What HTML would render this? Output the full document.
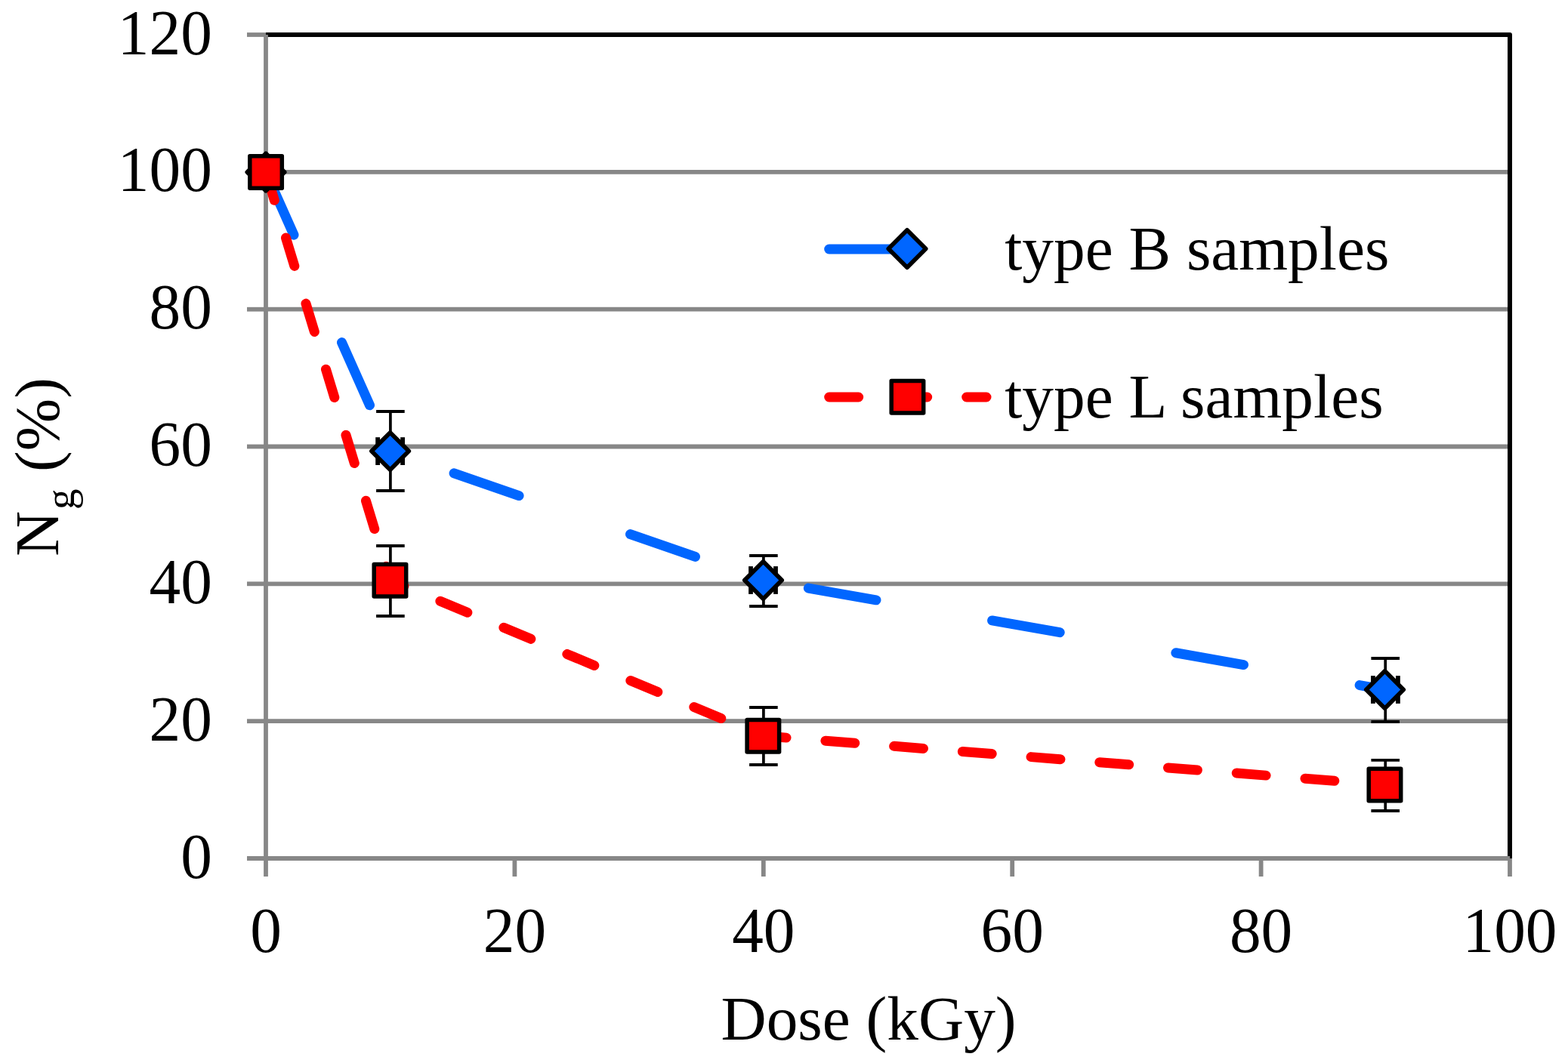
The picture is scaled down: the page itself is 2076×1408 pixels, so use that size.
<!DOCTYPE html>
<html><head><meta charset="utf-8"><title>Ng vs Dose</title>
<style>html,body{margin:0;padding:0;background:#fff;overflow:hidden}svg{display:block}</style>
</head><body>
<svg width="2076" height="1408" viewBox="0 0 2076 1408">
<rect width="2076" height="1408" fill="#fff"/>
<line x1="352" y1="955.2" x2="1999" y2="955.2" stroke="#878787" stroke-width="5.8"/>
<line x1="352" y1="773.3" x2="1999" y2="773.3" stroke="#878787" stroke-width="5.8"/>
<line x1="352" y1="591.5" x2="1999" y2="591.5" stroke="#878787" stroke-width="5.8"/>
<line x1="352" y1="409.7" x2="1999" y2="409.7" stroke="#878787" stroke-width="5.8"/>
<line x1="352" y1="227.8" x2="1999" y2="227.8" stroke="#878787" stroke-width="5.8"/>
<line x1="327" y1="1137.0" x2="352" y2="1137.0" stroke="#878787" stroke-width="5.8"/>
<line x1="327" y1="955.2" x2="352" y2="955.2" stroke="#878787" stroke-width="5.8"/>
<line x1="327" y1="773.3" x2="352" y2="773.3" stroke="#878787" stroke-width="5.8"/>
<line x1="327" y1="591.5" x2="352" y2="591.5" stroke="#878787" stroke-width="5.8"/>
<line x1="327" y1="409.7" x2="352" y2="409.7" stroke="#878787" stroke-width="5.8"/>
<line x1="327" y1="227.8" x2="352" y2="227.8" stroke="#878787" stroke-width="5.8"/>
<line x1="327" y1="46.0" x2="352" y2="46.0" stroke="#878787" stroke-width="5.8"/>
<path d="M352 46 H1999 V1137" fill="none" stroke="#000" stroke-width="6" stroke-linejoin="round"/>
<line x1="327" y1="1137" x2="1999" y2="1137" stroke="#878787" stroke-width="5.8"/>
<line x1="681.4" y1="1137" x2="681.4" y2="1161" stroke="#878787" stroke-width="5.8"/>
<line x1="1010.8" y1="1137" x2="1010.8" y2="1161" stroke="#878787" stroke-width="5.8"/>
<line x1="1340.2" y1="1137" x2="1340.2" y2="1161" stroke="#878787" stroke-width="5.8"/>
<line x1="1669.6" y1="1137" x2="1669.6" y2="1161" stroke="#878787" stroke-width="5.8"/>
<line x1="1999.0" y1="1137" x2="1999.0" y2="1161" stroke="#878787" stroke-width="5.8"/>
<line x1="352" y1="46" x2="352" y2="1161" stroke="#878787" stroke-width="5.8"/>
<path d="M352.0 228.0 L516.6 597.6 L1010.5 768.5 L1833.5 913.5" fill="none" stroke="#0066FF" stroke-width="13" stroke-linecap="round" stroke-linejoin="round" stroke-dasharray="91 156"/>
<path d="M352.0 228.0 L516.5 768.6 L1010.4 974.7 L1833.5 1039.5" fill="none" stroke="#FF0000" stroke-width="13" stroke-linecap="round" stroke-linejoin="round" stroke-dasharray="39 52"/>
<line x1="335.5" y1="209.6" x2="335.5" y2="246.4" stroke="#000" stroke-width="5.8"/><line x1="368.5" y1="209.6" x2="368.5" y2="246.4" stroke="#000" stroke-width="5.8"/>
<line x1="516.9" y1="545.0" x2="516.9" y2="650.0" stroke="#000" stroke-width="3.7"/><line x1="498.1" y1="545.0" x2="535.7" y2="545.0" stroke="#000" stroke-width="3.9"/><line x1="498.1" y1="650.0" x2="535.7" y2="650.0" stroke="#000" stroke-width="3.9"/>
<line x1="500.1" y1="579.2" x2="500.1" y2="616.0" stroke="#000" stroke-width="5.8"/><line x1="533.1" y1="579.2" x2="533.1" y2="616.0" stroke="#000" stroke-width="5.8"/>
<line x1="1010.9" y1="736.0" x2="1010.9" y2="803.0" stroke="#000" stroke-width="3.7"/><line x1="992.1" y1="736.0" x2="1029.7" y2="736.0" stroke="#000" stroke-width="3.9"/><line x1="992.1" y1="803.0" x2="1029.7" y2="803.0" stroke="#000" stroke-width="3.9"/>
<line x1="994.0" y1="750.1" x2="994.0" y2="786.9" stroke="#000" stroke-width="5.8"/><line x1="1027.0" y1="750.1" x2="1027.0" y2="786.9" stroke="#000" stroke-width="5.8"/>
<line x1="1834.2" y1="872.0" x2="1834.2" y2="956.0" stroke="#000" stroke-width="3.7"/><line x1="1815.4" y1="872.0" x2="1853.0" y2="872.0" stroke="#000" stroke-width="3.9"/><line x1="1815.4" y1="956.0" x2="1853.0" y2="956.0" stroke="#000" stroke-width="3.9"/>
<line x1="1817.9" y1="895.1" x2="1817.9" y2="931.9" stroke="#000" stroke-width="5.8"/><line x1="1850.9" y1="895.1" x2="1850.9" y2="931.9" stroke="#000" stroke-width="5.8"/>
<path d="M352.0 203.3 L376.7 228.0 L352.0 252.7 L327.3 228.0 Z" fill="#0066FF" stroke="#000" stroke-width="5.7" stroke-linejoin="round"/>
<path d="M516.6 572.9 L541.3 597.6 L516.6 622.3 L491.9 597.6 Z" fill="#0066FF" stroke="#000" stroke-width="5.7" stroke-linejoin="round"/>
<path d="M1010.5 743.8 L1035.2 768.5 L1010.5 793.2 L985.8 768.5 Z" fill="#0066FF" stroke="#000" stroke-width="5.7" stroke-linejoin="round"/>
<path d="M1833.5 888.8 L1858.2 913.5 L1833.5 938.2 L1808.8 913.5 Z" fill="#0066FF" stroke="#000" stroke-width="5.7" stroke-linejoin="round"/>
<line x1="516.9" y1="723.0" x2="516.9" y2="816.0" stroke="#000" stroke-width="3.7"/><line x1="498.1" y1="723.0" x2="535.7" y2="723.0" stroke="#000" stroke-width="3.9"/><line x1="498.1" y1="816.0" x2="535.7" y2="816.0" stroke="#000" stroke-width="3.9"/>
<line x1="1010.9" y1="937.0" x2="1010.9" y2="1013.0" stroke="#000" stroke-width="3.7"/><line x1="992.1" y1="937.0" x2="1029.7" y2="937.0" stroke="#000" stroke-width="3.9"/><line x1="992.1" y1="1013.0" x2="1029.7" y2="1013.0" stroke="#000" stroke-width="3.9"/>
<line x1="1834.2" y1="1006.9" x2="1834.2" y2="1074.0" stroke="#000" stroke-width="3.7"/><line x1="1815.4" y1="1006.9" x2="1853.0" y2="1006.9" stroke="#000" stroke-width="3.9"/><line x1="1815.4" y1="1074.0" x2="1853.0" y2="1074.0" stroke="#000" stroke-width="3.9"/>
<rect x="330.8" y="206.8" width="42.5" height="42.5" fill="#FF0000" stroke="#000" stroke-width="5.5" stroke-linejoin="round"/>
<rect x="495.2" y="747.4" width="42.5" height="42.5" fill="#FF0000" stroke="#000" stroke-width="5.5" stroke-linejoin="round"/>
<rect x="989.1" y="953.5" width="42.5" height="42.5" fill="#FF0000" stroke="#000" stroke-width="5.5" stroke-linejoin="round"/>
<rect x="1812.2" y="1018.2" width="42.5" height="42.5" fill="#FF0000" stroke="#000" stroke-width="5.5" stroke-linejoin="round"/>
<line x1="1097.7" y1="330" x2="1306" y2="330" stroke="#0066FF" stroke-width="13" stroke-linecap="round" stroke-dasharray="91 156"/>
<path d="M1201.0 304.8 L1225.7 329.5 L1201.0 354.2 L1176.3 329.5 Z" fill="#0066FF" stroke="#000" stroke-width="5.7" stroke-linejoin="round"/>
<line x1="1097.7" y1="526" x2="1306" y2="526" stroke="#FF0000" stroke-width="13" stroke-linecap="round" stroke-dasharray="39 52"/>
<rect x="1180.2" y="504.6" width="42.5" height="42.5" fill="#FF0000" stroke="#000" stroke-width="5.5" stroke-linejoin="round"/>
<g font-family="'Liberation Serif', 'Times New Roman', serif" font-size="83.33" fill="#000">
<text x="1330.2" y="356.8">type B samples</text>
<text x="1330.2" y="553">type L samples</text>
<text transform="translate(280.8 1162.5) scale(1 1.022)" text-anchor="end">0</text>
<text transform="translate(280.8 980.7) scale(1 1.022)" text-anchor="end">20</text>
<text transform="translate(280.8 798.8) scale(1 1.022)" text-anchor="end">40</text>
<text transform="translate(280.8 617.0) scale(1 1.022)" text-anchor="end">60</text>
<text transform="translate(280.8 435.2) scale(1 1.022)" text-anchor="end">80</text>
<text transform="translate(280.8 253.3) scale(1 1.022)" text-anchor="end">100</text>
<text transform="translate(280.8 71.5) scale(1 1.022)" text-anchor="end">120</text>
<text transform="translate(352.0 1260.5) scale(1 1.022)" text-anchor="middle">0</text>
<text transform="translate(681.4 1260.5) scale(1 1.022)" text-anchor="middle">20</text>
<text transform="translate(1010.8 1260.5) scale(1 1.022)" text-anchor="middle">40</text>
<text transform="translate(1340.2 1260.5) scale(1 1.022)" text-anchor="middle">60</text>
<text transform="translate(1669.6 1260.5) scale(1 1.022)" text-anchor="middle">80</text>
<text transform="translate(1999.0 1260.5) scale(1 1.022)" text-anchor="middle">100</text>
<text x="1150" y="1376.9" text-anchor="middle">Dose (kGy)</text>
<text transform="translate(76.6 737.1) rotate(-90)">N<tspan font-size="55" dx="2" dy="21.3">g</tspan><tspan dx="1.7" dy="-21.3"> (%)</tspan></text>
</g>
</svg>
</body></html>
